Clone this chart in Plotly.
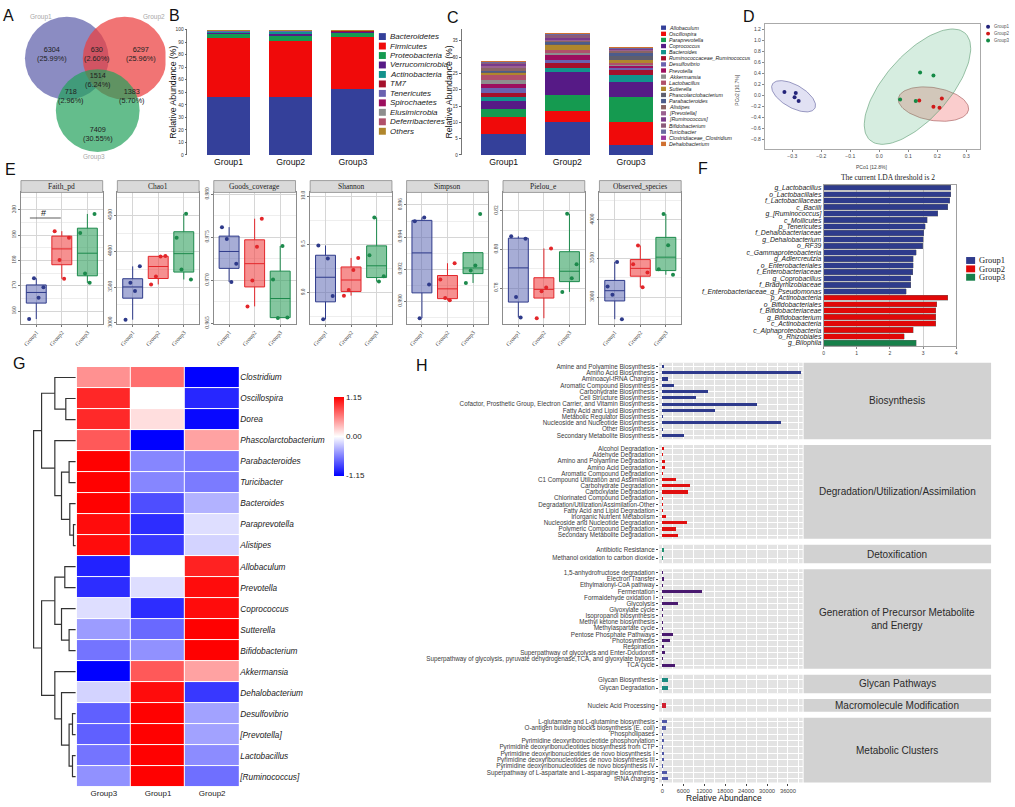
import numpy as np
import plotly.graph_objects as go

# ============================ DATA ============================
groups = ["Group1", "Group2", "Group3"]

# A  Venn diagram counts
venn_regions = ["Group1 only", "Group2 only", "Group3 only",
                "Group1&Group2", "Group1&Group3", "Group2&Group3", "All"]
venn_counts = [6304, 6297, 7409, 630, 718, 1383, 1514]

# B  phylum-level relative abundance (%)
phyla = ["Bacteroidetes", "Firmicutes", "Proteobacteria", "Verrucomicrobia",
         "Actinobacteria", "TM7", "Tenericutes", "Spirochaetes",
         "Elusimicrobia", "Deferribacteres", "Others"]
phyla_group1 = [46.6, 46.8, 3.6, 1.3, 0.4, 0.3, 0.4, 0.2, 0.2, 0.1, 0.1]
phyla_group2 = [46.2, 45.1, 4.5, 1.2, 1.5, 0.4, 0.4, 0.2, 0.1, 0.1, 0.3]
phyla_group3 = [52.8, 41.1, 4.0, 0.6, 0.4, 0.5, 0.2, 0.1, 0.1, 0.1, 0.1]

# C  genus-level relative abundance (%)
genera = ["Allobaculum", "Oscillospira", "Paraprevotella", "Coprococcus",
          "Bacteroides", "Ruminococcaceae_Ruminococcus", "Desulfovibrio",
          "Prevotella", "Akkermansia", "Lactobacillus", "Sutterella",
          "Phascolarctobacterium", "Parabacteroides", "Alistipes",
          "[Prevotella]", "[Ruminococcus]", "Bifidobacterium", "Turicibacter",
          "Clostridiaceae_Clostridium", "Dehalobacterium"]
genera_group1 = [6.5, 5.2, 2.3, 2.4, 1.3, 1.4, 1.5, 1.0, 1.5, 1.6, 0.6, 0.3,
                 0.5, 0.4, 0.8, 0.9, 0.2, 0.2, 0.05, 0.05]
genera_group2 = [10.2, 3.4, 4.8, 7.0, 1.4, 1.5, 0.9, 1.3, 1.0, 0.6, 1.5, 0.8,
                 0.5, 0.4, 0.3, 0.2, 1.2, 0.3, 0.05, 0.05]
genera_group3 = [3.2, 7.0, 7.7, 4.4, 2.2, 1.8, 0.6, 0.6, 0.3, 0.5, 0.9, 1.2,
                 1.0, 0.8, 0.2, 0.2, 0.1, 0.2, 0.05, 0.05]

# D  PCoA coordinates
pcoa_g1_x = [-0.327, -0.288, -0.292, -0.278]
pcoa_g1_y = [0.060, 0.040, -0.036, -0.108]
pcoa_g2_x = [0.138, 0.216, 0.187, 0.208]
pcoa_g2_y = [-0.095, -0.060, -0.210, -0.227]
pcoa_g3_x = [0.141, 0.187, 0.072, 0.126]
pcoa_g3_y = [0.414, 0.360, -0.077, -0.108]
# ellipse: centre, major semi-axis vector, minor semi-axis vector (data units)
ellipse_g1 = [(-0.2955, -0.020), (0.0731, -0.2207), (-0.0198, -0.1795)]
ellipse_g2 = [(0.187, -0.162), (0.121, -0.108), (-0.0097, -0.294)]
ellipse_g3 = [(0.132, 0.155), (0.1634, 0.977), (-0.0838, 0.384)]

# E  alpha diversity (4 samples per group)
alpha_names = ["Faith_pd", "Chao1", "Goods_coverage", "Shannon", "Simpson",
               "Pielou_e", "Observed_species"]
faith_pd = [[156.9, 173.0, 165.3, 169.5], [191.6, 180.2, 172.8, 189.0],
            [190.9, 174.9, 171.2, 198.4]]
chao1 = [[3045, 3559, 3445, 3789], [3537, 3647, 3927, 3935],
         [4189, 3744, 4522, 3606]]
goods_coverage = [[0.97617, 0.97478, 0.96980, 0.97191],
                  [0.96697, 0.96998, 0.97388, 0.97715],
                  [0.97009, 0.96561, 0.97398, 0.96568]]
shannon = [[9.490, 8.725, 9.355, 8.966], [8.970, 9.028, 9.236, 9.361],
           [9.388, 9.780, 9.117, 9.171]]
simpson = [[0.99498, 0.98895, 0.99522, 0.99105],
           [0.99135, 0.99020, 0.99006, 0.99237],
           [0.99114, 0.99192, 0.99223, 0.99543]]
pielou_e = [[0.8068, 0.7754, 0.7648, 0.8055], [0.7644, 0.7783, 0.7803, 0.8005],
            [0.7780, 0.8184, 0.7851, 0.7923]]
observed_species = [[3135, 3028, 3454, 2713], [3424, 3666, 3126, 3317],
                    [3360, 4073, 3671, 3288]]
alpha_ticks = [[160, 170, 180, 190, 200], [3000, 3500, 4000, 4500],
               [0.965, 0.970, 0.975, 0.980], [9.0, 9.5, 10.0],
               [0.990, 0.992, 0.994, 0.996], [0.78, 0.80, 0.82],
               [3000, 3500, 4000]]
alpha_fmt = ["%d", "%d", "%.3f", "%.1f", "%.3f", "%.2f", "%d"]

# F  LEfSe LDA scores
lda_features = ["g_Lactobacillus", "o_Lactobacillales", "f_Lactobacillaceae",
                "c_Bacilli", "g_[Ruminococcus]", "c_Mollicutes", "p_Tenericutes",
                "f_Dehalobacteriaceae", "g_Dehalobacterium", "o_RF39",
                "c_Gammaproteobacteria", "g_Adlercreutzia", "o_Enterobacteriales",
                "f_Enterobacteriaceae", "g_Coprobacillus", "f_Bradyrhizobiaceae",
                "f_Enterobacteriaceae_g_Pseudomonas", "p_Actinobacteria",
                "o_Bifidobacteriales", "f_Bifidobacteriaceae", "g_Bifidobacterium",
                "c_Actinobacteria", "c_Alphaproteobacteria", "o_Rhizobiales",
                "g_Bilophila"]
lda_scores = [3.83, 3.83, 3.80, 3.75, 3.45, 3.13, 3.07, 3.02, 3.00, 2.99, 2.79,
              2.71, 2.71, 2.69, 2.63, 2.63, 2.49, 3.75, 3.41, 3.39, 3.38, 3.38,
              2.70, 2.43, 2.80]
lda_group = ["Group1"] * 17 + ["Group2"] * 7 + ["Group3"]

# G  heatmap (row z-scores)
heat_cols = ["Group3", "Group1", "Group2"]
heat_genera = ["Clostridium", "Oscillospira", "Dorea", "Phascolarctobacterium",
               "Parabacteroides", "Turicibacter", "Bacteroides", "Paraprevotella",
               "Alistipes", "Allobaculum", "Prevotella", "Coprococcus",
               "Sutterella", "Bifidobacterium", "Akkermansia", "Dehalobacterium",
               "Desulfovibrio", "[Prevotella]", "Lactobacillus", "[Ruminococcus]"]
heat_z = [[0.50, 0.65, -1.15], [0.98, 0.00, -0.98], [0.97, 0.15, -1.12],
          [0.75, -1.15, 0.42], [1.15, -0.55, -0.60], [1.15, -0.55, -0.60],
          [1.15, -0.80, -0.35], [1.10, -0.95, -0.15], [1.10, -0.90, -0.20],
          [-1.00, 0.00, 1.00], [-0.95, -0.15, 1.10], [-0.15, -0.95, 1.10],
          [-0.45, -0.68, 1.15], [-0.63, -0.50, 1.15], [-1.15, 0.75, 0.42],
          [-0.20, 1.10, -0.90], [-0.72, 1.15, -0.42], [-0.72, 1.15, -0.42],
          [-0.63, 1.15, -0.52], [-0.50, 1.15, -0.65]]
# dendrogram merges: (node a, node b, height); leaves 0..19, new nodes 20..
den_merges = [(1, 2, 1.0), (0, 20, 2.1), (4, 5, 0.67), (7, 8, 0.23),
              (6, 23, 0.6), (22, 24, 1.43), (3, 25, 2.1), (21, 26, 3.43),
              (9, 10, 1.1), (12, 13, 0.67), (11, 29, 1.43), (28, 30, 2.1),
              (16, 17, 0.33), (18, 19, 0.33), (32, 33, 0.67), (15, 34, 1.43),
              (14, 35, 2.1), (31, 36, 3.43), (27, 37, 4.23)]

# H  functional pathways (relative abundance)
bio_labels = ["Amine and Polyamine Biosynthesis", "Amino Acid Biosynthesis",
              "Aminoacyl-tRNA Charging", "Aromatic Compound Biosynthesis",
              "Carbohydrate Biosynthesis", "Cell Structure Biosynthesis",
              "Cofactor, Prosthetic Group, Electron Carrier, and Vitamin Biosynthesis",
              "Fatty Acid and Lipid Biosynthesis", "Metabolic Regulator Biosynthesis",
              "Nucleoside and Nucleotide Biosynthesis", "Other Biosynthesis",
              "Secondary Metabolite Biosynthesis"]
bio_values = [400, 39800, 1630, 3340, 13060, 9630, 27240, 15060, 80, 33910, 200, 6200]
deg_labels = ["Alcohol Degradation", "Aldehyde Degradation",
              "Amino and Polyamine Degradation", "Amino Acid Degradation",
              "Aromatic Compound Degradation", "C1 Compound Utilization and Assimilation",
              "Carbohydrate Degradation", "Carboxylate Degradation",
              "Chlorinated Compound Degradation",
              "Degradation/Utilization/Assimilation-Other",
              "Fatty Acid and Lipid Degradation", "Inorganic Nutrient Metabolism",
              "Nucleoside and Nucleotide Degradation", "Polymeric Compound Degradation",
              "Secondary Metabolite Degradation"]
deg_values = [250, 30, 760, 670, 120, 4000, 8000, 7330, 20, 20, 150, 950, 6950, 3900, 4570]
detox_labels = ["Antibiotic Resistance", "Methanol oxidation to carbon dioxide"]
detox_values = [570, 20]
gen_labels = ["1,5-anhydrofructose degradation", "Electron Transfer",
              "Ethylmalonyl-CoA pathway", "Fermentation", "Formaldehyde oxidation I",
              "Glycolysis", "Glyoxylate cycle", "Isopropanol biosynthesis",
              "Methyl ketone biosynthesis", "Methylaspartate cycle",
              "Pentose Phosphate Pathways", "Photosynthesis", "Respiration",
              "Superpathway of glycolysis and Enter-Doudoroff",
              "Superpathway of glycolysis, pyruvate dehydrogenase,TCA, and glyoxylate bypass",
              "TCA cycle"]
gen_values = [20, 350, 20, 11430, 60, 4570, 80, 10, 10, 10, 2950, 2100, 400, 760, 30, 3620]
glycan_labels = ["Glycan Biosynthesis", "Glycan Degradation"]
glycan_values = [1620, 1720]
macro_labels = ["Nucleic Acid Processing"]
macro_values = [1140]
clus_labels = ["L-glutamate and L-glutamine biosynthesis",
               "O-antigen building blocks biosynthesis (E. coli)", "Phospholipases",
               "Pyrimidine deoxyribonucleotide phosphorylation",
               "Pyrimidine deoxyribonucleotides biosynthesis from CTP",
               "Pyrimidine deoxyribonucleotides de novo biosynthesis I",
               "Pyrimidine deoxyribonucleotides de novo biosynthesis III",
               "Pyrimidine deoxyribonucleotides de novo biosynthesis IV",
               "Superpathway of L-aspartate and L-asparagine biosynthesis",
               "tRNA charging"]
clus_values = [1240, 950, 20, 400, 20, 400, 300, 20, 1340, 1530]
h_facets = ["Biosynthesis", "Degradation/Utilization/Assimilation", "Detoxification",
            "Generation of Precursor Metabolite<br>and Energy", "Glycan Pathways",
            "Macromolecule Modification", "Metabolic Clusters"]
h_xticks = [0, 6000, 12000, 18000, 24000, 30000, 36000]

# ============================ STYLE / HELPERS ============================
W, H = 1015, 807
SANS = "Liberation Sans, Arial, sans-serif"
SERIF = "Liberation Serif, Times New Roman, serif"


def fx(p):
    return p / W


def fy(p):
    return 1 - p / H


def dom_x(a, b):
    return [a / W, b / W]


def dom_y(a, b):
    return [1 - b / H, 1 - a / H]


fig = go.Figure()
layout_axes = {}
annotations = []
shapes = []
_n = [0]


def add_axes(xd, yd, xa, ya):
    _n[0] += 1
    k = "" if _n[0] == 1 else str(_n[0])
    xa = dict(xa)
    ya = dict(ya)
    xa.update(domain=xd, anchor="y" + k)
    ya.update(domain=yd, anchor="x" + k)
    layout_axes["xaxis" + k] = xa
    layout_axes["yaxis" + k] = ya
    return "x" + k, "y" + k


def text(x, y, s, size=8, color="#222", family=SANS, xanchor="center",
         yanchor="middle", angle=0, xref="paper", yref="paper"):
    if xref == "paper":
        x = fx(x)
    if yref == "paper":
        y = fy(y)
    annotations.append(dict(x=x, y=y, xref=xref, yref=yref, text=s, showarrow=False,
                            font=dict(size=size, color=color, family=family),
                            xanchor=xanchor, yanchor=yanchor, textangle=angle,
                            borderpad=0))


def rect(x0, y0, x1, y1, fill, line=None, layer="below"):
    shapes.append(dict(type="rect", xref="paper", yref="paper", x0=fx(x0), x1=fx(x1),
                       y0=fy(y1), y1=fy(y0), fillcolor=fill, layer=layer,
                       line=dict(width=0.8 if line else 0, color=line or fill)))


HIDDEN = dict(visible=False, showgrid=False, zeroline=False)
grp_dark = {"Group1": "#2e3a8a", "Group2": "#e3262a", "Group3": "#1c8a4c"}
grp_fill = {"Group1": "rgba(95,105,180,0.55)", "Group2": "rgba(240,70,70,0.6)",
            "Group3": "rgba(50,160,95,0.6)"}
tax_colors = ["#34409a", "#f00a0a", "#159a50", "#561a86", "#12928c", "#a5102c",
              "#6a62b0", "#9c0e5e", "#8e8e8e", "#b0506a", "#b0862c", "#5e5e6e",
              "#4c5c8c", "#8a6464", "#9a6090", "#7a3a8a", "#8a5a7a", "#6a6aa0",
              "#9a3aa0", "#d07030"]

# panel letters
for letter, (lx, ly) in [("A", (8, 10)), ("B", (174, 10)), ("C", (453, 12)),
                         ("D", (750, 11)), ("E", (10, 166)), ("F", (704, 165)),
                         ("G", (18, 362)), ("H", (422, 364))]:
    text(lx, ly, letter, size=16, color="#111")

# ============================ A: Venn ============================
xa_, ya_ = add_axes(dom_x(0, 165), dom_y(0, 165), dict(HIDDEN, range=[0, 165]),
                    dict(HIDDEN, range=[165, 0]))
venn_circles = [(66, 53, 42, "rgba(94,96,171,0.72)"),
                (124, 53, 42, "rgba(235,62,62,0.72)"),
                (97, 106, 42, "rgba(34,161,91,0.70)")]
for cx, cy, r, col in venn_circles:
    shapes.append(dict(type="circle", xref=xa_, yref=ya_, x0=cx - r, x1=cx + r,
                       y0=cy - r, y1=cy + r, fillcolor=col, line=dict(width=0),
                       layer="below"))
venn_total = sum(venn_counts)
venn_pos = [(51, 49), (140, 49), (97, 130), (96, 49), (70, 91.5), (131, 91.5), (97, 75.5)]
for (vx, vy), c in zip(venn_pos, venn_counts):
    text(vx, vy, "%d<br>(%.2f%%)" % (c, 100.0 * c / venn_total), size=7.3,
         color="#222", xref=xa_, yref=ya_)
for (vx, vy), g in zip([(40, 11), (153, 11), (93, 153)], groups):
    text(vx, vy, g, size=6.5, color="#a8a8a8", xref=xa_, yref=ya_)

# ============================ B: phyla ============================
xb, yb = add_axes(dom_x(187, 376), dom_y(24, 151),
                  dict(type="category", range=[-0.66, 2.37], ticks="",
                       tickfont=dict(size=8.7, color="#111"), showgrid=False,
                       zeroline=False, showline=False),
                  dict(range=[0, 100], tickvals=list(range(0, 101, 10)),
                       tickfont=dict(size=4.8, color="#333"), ticks="outside",
                       ticklen=2, tickcolor="#666", showline=True, linecolor="#777",
                       linewidth=0.8, showgrid=False, zeroline=False))
for j, ph in enumerate(phyla):
    fig.add_trace(go.Bar(x=groups, y=[phyla_group1[j], phyla_group2[j], phyla_group3[j]],
                         marker=dict(color=tax_colors[j], line=dict(width=0)),
                         width=0.69, xaxis=xb, yaxis=yb, name=ph))
text(173, 87.5, "Relative Abundance (%)", size=8.7, angle=-90, color="#111")
for j, ph in enumerate(phyla):
    ly = 31 + 9.6 * j
    rect(379, ly - 3.5, 386, ly + 3.5, tax_colors[j], layer="above")
    text(389, ly, "<i>%s</i>" % ph, size=8, xanchor="left", color="#222")

# ============================ C: genera ============================
xc, yc = add_axes(dom_x(462, 660), dom_y(23, 151),
                  dict(type="category", range=[-0.66, 2.44], ticks="",
                       tickfont=dict(size=8.7, color="#111"), showgrid=False,
                       zeroline=False, showline=False),
                  dict(range=[0, 38.7], tickvals=list(range(0, 36, 5)),
                       tickfont=dict(size=4.5, color="#333"), ticks="outside",
                       ticklen=2, tickcolor="#666", showline=True, linecolor="#777",
                       linewidth=0.8, showgrid=False, zeroline=False))
for j, gname in enumerate(genera):
    fig.add_trace(go.Bar(x=groups, y=[genera_group1[j], genera_group2[j], genera_group3[j]],
                         marker=dict(color=tax_colors[j], line=dict(width=0)),
                         width=0.7, xaxis=xc, yaxis=yc, name=gname))
text(449, 87, "Relative Abundance (%)", size=8.7, angle=-90, color="#111")
for j, gname in enumerate(genera):
    ly = 22 + 6.2 * j
    rect(662, ly - 2.2, 667, ly + 2.2, tax_colors[j], layer="above")
    text(669, ly, "<i>%s</i>" % gname, size=5.3, xanchor="left", color="#222")

# ============================ D: PCoA ============================
xd, yd = add_axes(dom_x(766, 982), dom_y(18, 145),
                  dict(range=[-0.395, 0.348], tickvals=[-0.3, -0.2, -0.1, 0.0, 0.1, 0.2, 0.3],
                       tickformat=".1f", tickfont=dict(size=5, color="#444"),
                       ticks="outside", ticklen=2, tickcolor="#888", showline=True,
                       mirror=True, linecolor="#aaa", linewidth=0.8, showgrid=False,
                       zeroline=False),
                  dict(range=[-0.98, 1.30], tickvals=[round(-0.8 + 0.2 * i, 1) for i in range(11)],
                       tickformat=".1f", tickfont=dict(size=5, color="#444"),
                       ticks="outside", ticklen=2, tickcolor="#888", showline=True,
                       mirror=True, linecolor="#aaa", linewidth=0.8, showgrid=False,
                       zeroline=False))
t = np.linspace(0, 2 * np.pi, 120)
ell_style = [("rgba(120,120,200,0.22)", "#5a5a9a"), ("rgba(240,90,90,0.30)", "#a05050"),
             ("rgba(90,185,130,0.25)", "#5a9a70")]
for (c, M, m), (fc, lc) in zip([ellipse_g1, ellipse_g2, ellipse_g3], ell_style):
    ex = c[0] + M[0] * np.cos(t) + m[0] * np.sin(t)
    ey = c[1] + M[1] * np.cos(t) + m[1] * np.sin(t)
    fig.add_trace(go.Scatter(x=ex, y=ey, mode="lines", fill="toself", fillcolor=fc,
                             line=dict(color=lc, width=0.6), xaxis=xd, yaxis=yd))
pc_cols = ["#23237a", "#d01818", "#138a45"]
for gx, gy, col in [(pcoa_g1_x, pcoa_g1_y, pc_cols[0]), (pcoa_g2_x, pcoa_g2_y, pc_cols[1]),
                    (pcoa_g3_x, pcoa_g3_y, pc_cols[2])]:
    fig.add_trace(go.Scatter(x=gx, y=gy, mode="markers", marker=dict(size=4, color=col),
                             xaxis=xd, yaxis=yd))
text(873, 163, "PCo1 [12.8%]", size=5, color="#444")
text(738, 85, "PCo2 [10.7%]", size=5, color="#444", angle=-90)
for j, g in enumerate(groups):
    ly = 21 + 7 * j
    shapes.append(dict(type="circle", xref="paper", yref="paper", x0=fx(988), x1=fx(992),
                       y0=fy(ly + 2), y1=fy(ly - 2), fillcolor=pc_cols[j],
                       line=dict(width=0)))
    text(995, ly, g, size=4.5, xanchor="left", color="#555")

# ============================ E: alpha diversity ============================
alpha_data = [faith_pd, chao1, goods_coverage, shannon, simpson, pielou_e, observed_species]
alpha_ranges = [[155.1, 206.9], [2990, 4821], [0.96497, 0.9802], [8.68, 10.04],
                [0.98861, 0.99678], [0.7616, 0.8295], [2656, 4353]]
jitter = [-0.28, -0.09, 0.09, 0.28]
for i, (name, data) in enumerate(zip(alpha_names, alpha_data)):
    x0p = 20 + 96.7 * i
    x1p = x0p + 82
    tks = alpha_ticks[i]
    rng = alpha_ranges[i]
    step = tks[1] - tks[0]
    minors = [tks[0] - step / 2 + step * k for k in range(len(tks) + 1)]
    minors = [v for v in minors if rng[0] <= v <= rng[1]]
    xe, ye = add_axes(dom_x(x0p, x1p), dom_y(189, 322),
                      dict(range=[0.4, 3.6], tickmode="array", tickvals=[1, 2, 3],
                           ticktext=groups, tickangle=-50,
                           tickfont=dict(family=SERIF, size=6, color="#444"),
                           showgrid=True, gridcolor="#d6d6d6", gridwidth=0.7,
                           showline=True, mirror=True, linecolor="#8c8c8c", linewidth=0.8,
                           ticks="outside", ticklen=2, tickcolor="#777", zeroline=False),
                      dict(range=rng, tickmode="array", tickvals=tks,
                           ticktext=[alpha_fmt[i] % v for v in tks], tickangle=-90,
                           tickfont=dict(family=SERIF, size=5.5, color="#444"),
                           showgrid=True, gridcolor="#d6d6d6", gridwidth=0.7,
                           minor=dict(tickmode="array", tickvals=minors, showgrid=True,
                                      gridcolor="#eeeeee", gridwidth=0.5, ticks=""),
                           showline=True, mirror=True, linecolor="#8c8c8c", linewidth=0.8,
                           ticks="outside", ticklen=2, tickcolor="#777", zeroline=False))
    rect(x0p, 177, x1p, 189, "#d9d9d9", line="#8c8c8c", layer="above")
    text((x0p + x1p) / 2, 183, name, size=7.5, family=SERIF, color="#222")
    for gi, g in enumerate(groups):
        v = np.array(data[gi], dtype=float)
        q1, med, q3 = np.percentile(v, [25, 50, 75])
        iqr = q3 - q1
        lf = v[v >= q1 - 1.5 * iqr].min()
        uf = v[v <= q3 + 1.5 * iqr].max()
        fig.add_trace(go.Box(x=[gi + 1], q1=[q1], median=[med], q3=[q3],
                             lowerfence=[lf], upperfence=[uf], width=0.78,
                             fillcolor=grp_fill[g], line=dict(color=grp_dark[g], width=1),
                             whiskerwidth=0, boxpoints=False, xaxis=xe, yaxis=ye))
        fig.add_trace(go.Scatter(x=[gi + 1 + jitter[k] for k in range(len(v))], y=v,
                                 mode="markers", marker=dict(size=4, color=grp_dark[g]),
                                 xaxis=xe, yaxis=ye))
    if name == "Faith_pd":
        shapes.append(dict(type="line", xref=xe, yref=ye, x0=0.75, x1=1.96,
                           y0=196.8, y1=196.8, line=dict(color="#333", width=0.8)))
        text(1.3, 198.7, "#", size=9, color="#222", xref=xe, yref=ye)

# ============================ F: LDA ============================
xf, yf = add_axes(dom_x(825, 958), dom_y(181, 345),
                  dict(range=[0, 4], tickvals=[0, 1, 2, 3, 4],
                       tickfont=dict(size=5, color="#444"), ticks="outside", ticklen=2,
                       tickcolor="#888", showgrid=True, gridcolor="#d0d0d0",
                       gridwidth=0.7, showline=True, mirror=True, linecolor="#a0a0a0",
                       linewidth=0.8, zeroline=False),
                  dict(type="category", range=[24.5, -0.5], tickmode="array",
                       tickvals=lda_features, ticktext=lda_features,
                       tickfont=dict(size=6.8, color="#222", style="italic"), ticks="",
                       showgrid=False, showline=True, mirror=True, linecolor="#a0a0a0",
                       linewidth=0.8, zeroline=False))
lda_cols = {"Group1": "#2e3b8c", "Group2": "#e00808", "Group3": "#17804a"}
for g in groups:
    idx = [k for k, gg in enumerate(lda_group) if gg == g]
    fig.add_trace(go.Bar(y=[lda_features[k] for k in idx], x=[lda_scores[k] for k in idx],
                         orientation="h", width=0.84,
                         marker=dict(color=lda_cols[g], line=dict(color="#666", width=0.4)),
                         xaxis=xf, yaxis=yf, name=g))
text(890, 174, "The current LDA threshold is 2", size=7.5, family=SERIF, color="#222")
for j, g in enumerate(groups):
    ly = 258 + 8.5 * j
    rect(968, ly - 3.5, 977, ly + 3.5, lda_cols[g], layer="above")
    text(980, ly, g, size=8.5, family=SERIF, xanchor="left", color="#222")

# ============================ G: heatmap + dendrogram ============================
xg, yg = add_axes(dom_x(76, 239), dom_y(366, 792),
                  dict(type="category", range=[-0.5, 2.5], ticks="",
                       tickfont=dict(size=8, color="#222"), showgrid=False, zeroline=False),
                  dict(type="category", range=[19.5, -0.5], side="right", tickmode="array",
                       tickvals=heat_genera, ticktext=heat_genera, ticks="",
                       tickfont=dict(size=8.3, color="#222", style="italic"),
                       showgrid=False, zeroline=False))
fig.add_trace(go.Heatmap(x=heat_cols, y=heat_genera, z=heat_z, zmin=-1.155, zmax=1.155,
                         colorscale=[[0, "#0000ff"], [0.5, "#ffffff"], [1, "#ff0000"]],
                         xgap=1, ygap=1, xaxis=xg, yaxis=yg,
                         colorbar=dict(x=fx(334), xanchor="left", y=fy(396), yanchor="top",
                                       len=80 / H, lenmode="fraction", thickness=10,
                                       thicknessmode="pixels", xpad=0, ypad=0,
                                       outlinewidth=0, ticks="",
                                       tickvals=[-1.15, 0, 1.15],
                                       ticktext=["-1.15", "0.00", "1.15"],
                                       tickfont=dict(size=8, color="#222"))))
xden, yden = add_axes(dom_x(25, 75), dom_y(366, 792), dict(HIDDEN, range=[5, 0]),
                      dict(HIDDEN, range=[19.5, -0.5]))
pos = {i: (0.0, float(i)) for i in range(len(heat_genera))}
segx, segy = [], []
for k, (a, b, hgt) in enumerate(den_merges):
    ha, yA = pos[a]
    hb, yB = pos[b]
    segx += [ha, hgt, hgt, hb, None]
    segy += [yA, yA, yB, yB, None]
    pos[len(heat_genera) + k] = (hgt, (yA + yB) / 2)
fig.add_trace(go.Scatter(x=segx, y=segy, mode="lines", line=dict(color="#333", width=1.2),
                         xaxis=xden, yaxis=yden))

# ============================ H: pathways ============================
h_labels = [bio_labels, deg_labels, detox_labels, gen_labels, glycan_labels,
            macro_labels, clus_labels]
h_values = [bio_values, deg_values, detox_values, gen_values, glycan_values,
            macro_values, clus_values]
h_colors = ["#2e3a8c", "#e01010", "#1e9070", "#4a1a70", "#1a8a80", "#d02030", "#5058a8"]
top, bottom, gap = 361.7, 787.3, 6.0
units = [len(l) + 1.2 for l in h_labels]
u = (bottom - top - gap * (len(units) - 1)) / sum(units)
cur = top
for k, (labs, vals) in enumerate(zip(h_labels, h_values)):
    n = len(labs)
    y0p = cur
    y1p = cur + units[k] * u
    cur = y1p + gap
    last = k == len(h_labels) - 1
    xh, yh = add_axes(dom_x(660, 804), dom_y(y0p, y1p),
                      dict(range=[-943, 40200], tickmode="array", tickvals=h_xticks,
                           ticktext=[str(v) for v in h_xticks],
                           showticklabels=last, ticks="outside" if last else "",
                           ticklen=2, tickcolor="#444",
                           tickfont=dict(size=5.8, color="#444"), showgrid=True,
                           gridcolor="#ffffff", gridwidth=0.9,
                           minor=dict(tickmode="array",
                                      tickvals=[3000 + 6000 * m for m in range(7)],
                                      showgrid=True, gridcolor="#ffffff", gridwidth=0.4,
                                      ticks=""),
                           zeroline=False, showline=False),
                      dict(type="category", range=[n - 0.4, -0.6], tickmode="array",
                           tickvals=labs, ticktext=labs, ticks="outside", ticklen=2,
                           tickcolor="#444", tickfont=dict(size=6.3, color="#3a3a3a"),
                           showgrid=True, gridcolor="#ffffff", gridwidth=0.9,
                           zeroline=False, showline=False))
    rect(660, y0p, 804, y1p, "#e3e3e3")
    rect(805, y0p, 993, y1p, "#d2d2d2")
    text(899, (y0p + y1p) / 2, h_facets[k], size=10, color="#2a2a2a")
    fig.add_trace(go.Bar(x=vals, y=labs, orientation="h", width=0.5,
                         marker=dict(color=h_colors[k], line=dict(width=0)),
                         xaxis=xh, yaxis=yh))
text(725, 803, "Relative Abundance", size=8.5, color="#111")

# ============================ LAYOUT ============================
fig.update_layout(width=W, height=H, margin=dict(l=0, r=0, t=0, b=0), autosize=False,
                  paper_bgcolor="white", plot_bgcolor="rgba(0,0,0,0)", barmode="stack",
                  showlegend=False, hovermode=False,
                  font=dict(family=SANS, color="#222"),
                  annotations=annotations, shapes=shapes, **layout_axes)
fig.write_html("out.html", include_plotlyjs=True, full_html=True,
               config={"displayModeBar": False},
               post_script="document.body.style.margin='0px';")
